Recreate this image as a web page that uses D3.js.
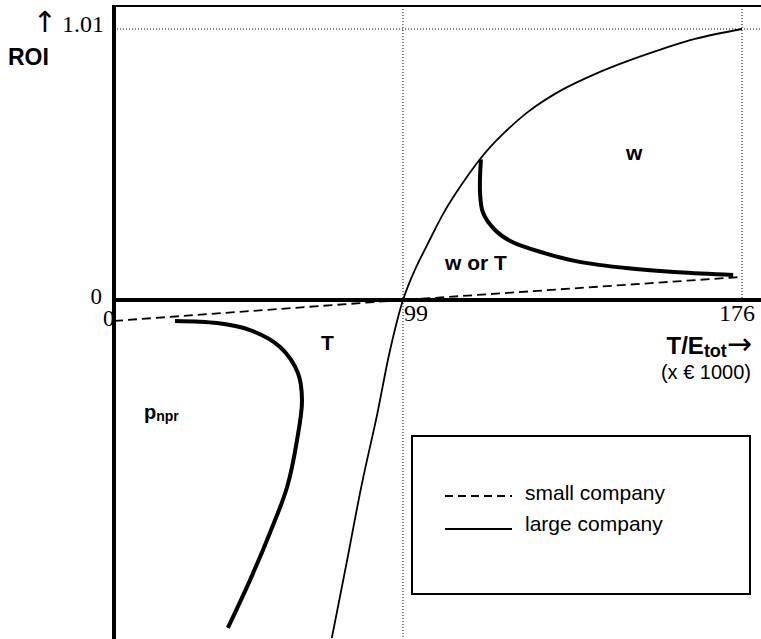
<!DOCTYPE html>
<html>
<head>
<meta charset="utf-8">
<script src="https://cdn.jsdelivr.net/npm/d3@7"></script>
<style>
  body { margin: 0; background: #fff; }
</style>
</head>
<body>
<div id="chart"></div>
<script>
// x ticks (T/E_tot, x 1000 euro) and y ticks (ROI)
const xTicks = [0, 99, 176];
const yTicks = [0, 1.01];

// small company: straight dashed line
const smallCompany = [[0, -0.078], [99, 0], [176, 0.086]];

// large company: thin curve through the break-even point
const largeCompany = [
    [74.6, -1.260], [79.8, -0.973], [84.9, -0.686], [90.1, -0.429], [94.5, -0.190],
    [99, 0], [101.7, 0.112], [104.7, 0.212], [108.5, 0.332], [112.4, 0.432],
    [116.7, 0.529], [119.9, 0.589], [127.4, 0.701], [135.1, 0.783], [142.6, 0.842],
    [150.1, 0.891], [157.8, 0.935], [165.3, 0.973], [176, 1.01]
];

// thick boundary between "w" and "w or T"
const boundaryW = [
    [116.7, 0.524], [116.5, 0.399], [117.2, 0.324], [119.9, 0.261], [123.7, 0.217],
    [131.3, 0.174], [138.8, 0.143], [150.2, 0.118], [161.5, 0.103], [174.0, 0.093]
];

// thick boundary between "p_npr" and "T"
const boundaryP = [
    [20.9, -0.078], [35.3, -0.086], [46.6, -0.112], [56.9, -0.175], [63.0, -0.272],
    [64.4, -0.373], [62.7, -0.522], [59.3, -0.697], [53.4, -0.868], [46.6, -1.044], [39.0, -1.222]
];

const legendLabels = ["small company", "large company"];

const width = 761, height = 639;
const serif = "'Liberation Serif', 'Times New Roman', serif";
const sans = "'Liberation Sans', Arial, sans-serif";
const arrows = "'DejaVu Sans', sans-serif";

const svg = d3.select("#chart").append("svg")
    .attr("width", width)
    .attr("height", height);

// the x axis is schematic, so piecewise scale through the three ticks
const x = d3.scaleLinear().domain(xTicks).range([114, 403, 742]);
const y = d3.scaleLinear().domain(yTicks).range([300, 29]);

const line = d3.line()
    .x(d => x(d[0]))
    .y(d => y(d[1]))
    .curve(d3.curveCatmullRom);

// dotted guide lines
svg.append("line")
    .attr("x1", x(0)).attr("x2", width)
    .attr("y1", y(1.01)).attr("y2", y(1.01))
    .attr("stroke", "#000").attr("stroke-width", 1).attr("stroke-dasharray", "1,2");
svg.append("line")
    .attr("x1", x(99)).attr("x2", x(99))
    .attr("y1", 6).attr("y2", height)
    .attr("stroke", "#000").attr("stroke-width", 1).attr("stroke-dasharray", "1,2");
svg.append("line")
    .attr("x1", x(176)).attr("x2", x(176))
    .attr("y1", 6).attr("y2", y(0))
    .attr("stroke", "#000").attr("stroke-width", 1).attr("stroke-dasharray", "1,2");

// frame: top border, left axis, zero axis
svg.append("line")
    .attr("x1", x(0)).attr("x2", width).attr("y1", 6).attr("y2", 6)
    .attr("stroke", "#000").attr("stroke-width", 2);
svg.append("line")
    .attr("x1", x(0)).attr("x2", x(0)).attr("y1", 5).attr("y2", height)
    .attr("stroke", "#000").attr("stroke-width", 4);
svg.append("line")
    .attr("x1", x(0)).attr("x2", width).attr("y1", y(0)).attr("y2", y(0))
    .attr("stroke", "#000").attr("stroke-width", 4);

// curves
svg.append("path")
    .attr("d", d3.line().x(d => x(d[0])).y(d => y(d[1]))(smallCompany))
    .attr("fill", "none").attr("stroke", "#000").attr("stroke-width", 1.8)
    .attr("stroke-dasharray", "9,5");
svg.append("path")
    .attr("d", line(largeCompany))
    .attr("fill", "none").attr("stroke", "#000").attr("stroke-width", 1.8);
svg.append("path")
    .attr("d", line(boundaryW))
    .attr("fill", "none").attr("stroke", "#000").attr("stroke-width", 4);
svg.append("path")
    .attr("d", line(boundaryP))
    .attr("fill", "none").attr("stroke", "#000").attr("stroke-width", 4);

// tick labels
svg.append("text").attr("x", 57).attr("y", 32)
    .attr("text-anchor", "end").style("font-family", arrows).style("font-size", "29px")
    .text("\u2191");
svg.append("text").attr("x", 104).attr("y", 32)
    .attr("text-anchor", "end").style("font-family", serif).style("font-size", "24px")
    .text(yTicks[1]);
svg.append("text").attr("x", 102).attr("y", y(0) + 4)
    .attr("text-anchor", "end").style("font-family", serif).style("font-size", "23px")
    .text(yTicks[0]);
svg.append("text").attr("x", x(0) - 11).attr("y", 326)
    .style("font-family", serif).style("font-size", "23px")
    .text(xTicks[0]);
svg.append("text").attr("x", x(99) + 1).attr("y", 321)
    .style("font-family", serif).style("font-size", "24px")
    .text(xTicks[1]);
svg.append("text").attr("x", x(176) - 5).attr("y", 321)
    .attr("text-anchor", "middle").style("font-family", serif).style("font-size", "24px")
    .text(xTicks[2]);

// axis titles
svg.append("text").attr("x", 8).attr("y", 65)
    .style("font-family", sans).style("font-size", "23px").style("font-weight", "bold")
    .text("ROI");
const xt = svg.append("text").attr("x", 752).attr("y", 354)
    .attr("text-anchor", "end").style("font-family", sans).style("font-size", "24px").style("font-weight", "bold");
xt.append("tspan").text("T/E");
xt.append("tspan").attr("dy", 3).style("font-size", "18px").text("tot");
xt.append("tspan").attr("dy", -3).style("font-family", arrows).style("font-size", "30px")
    .style("font-weight", "normal").text("\u2192");
svg.append("text").attr("x", 751).attr("y", 379)
    .attr("text-anchor", "end").style("font-family", sans).style("font-size", "20px")
    .text("(x \u20ac 1000)");

// region labels
const regionStyle = s => s.style("font-family", sans).style("font-weight", "bold").style("font-size", "21px");
svg.append("text").attr("x", 626).attr("y", 160).call(regionStyle).text("w");
svg.append("text").attr("x", 445).attr("y", 270).call(regionStyle).text("w or T");
svg.append("text").attr("x", 321).attr("y", 350).call(regionStyle).text("T");
const pn = svg.append("text").attr("x", 144).attr("y", 419).call(regionStyle);
pn.append("tspan").style("font-size", "20px").text("p");
pn.append("tspan").attr("dy", 2).style("font-size", "14px").text("npr");

// legend box
const legend = svg.append("g");
legend.append("rect")
    .attr("x", 412).attr("y", 436).attr("width", 338).attr("height", 158)
    .attr("fill", "#fff").attr("stroke", "#000").attr("stroke-width", 2);
legendLabels.forEach((label, i) => {
    const ly = 496 + i * 33;
    legend.append("line")
        .attr("x1", 445).attr("x2", 512).attr("y1", ly).attr("y2", ly)
        .attr("stroke", "#000").attr("stroke-width", 1.8)
        .attr("stroke-dasharray", i === 0 ? "8,5" : null);
    legend.append("text").attr("x", 525).attr("y", ly + 4 - i * 2)
        .style("font-family", sans).style("font-size", "21px")
        .text(label);
});
</script>
</body>
</html>
